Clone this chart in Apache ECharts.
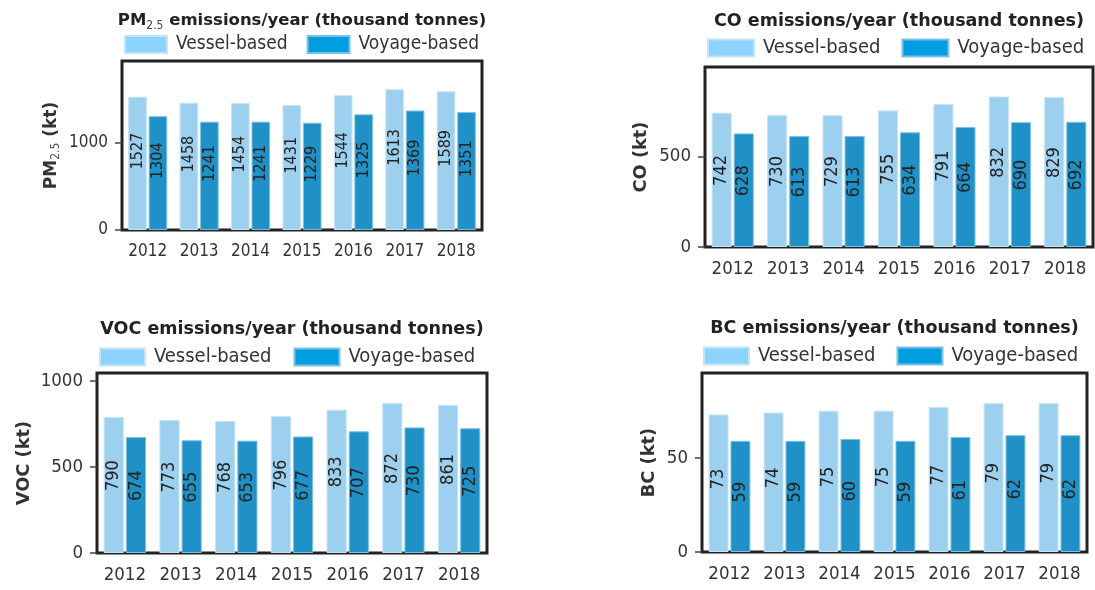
<!DOCTYPE html>
<html>
<head>
<meta charset="utf-8">
<script src="https://cdn.jsdelivr.net/npm/echarts@6/dist/echarts.min.js"></script>
<style>
html,body{margin:0;padding:0;background:#fff;}
#c{width:1095px;height:590px;}
</style>
</head>
<body>
<div id="c"></div>
<script>
// ---- data ----
var years = ['2012','2013','2014','2015','2016','2017','2018'];
var seriesNames = ['Vessel-based','Voyage-based'];
var pmVessel = [1527,1458,1454,1431,1544,1613,1589];
var pmVoyage = [1304,1241,1241,1229,1325,1369,1351];
var coVessel = [742,730,729,755,791,832,829];
var coVoyage = [628,613,613,634,664,690,692];
var vocVessel = [790,773,768,796,833,872,861];
var vocVoyage = [674,655,653,677,707,730,725];
var bcVessel = [73,74,75,75,77,79,79];
var bcVoyage = [59,59,60,59,61,62,62];
var pmTicks = [0,1000];
var coTicks = [0,500];
var vocTicks = [0,500,1000];
var bcTicks = [0,50];
var pmMax = 1936, coMax = 995, vocMax = 1046, bcMax = 95;

// ---- style ----
var FONT = "'DejaVu Sans Condensed','DejaVu Sans',sans-serif";
var BOLD = "'DejaVu Sans','DejaVu Sans Condensed',sans-serif";
var C_VESSEL = '#9dcfee', C_VOYAGE = '#1f91c6';
var L_VESSEL = '#8cd3ff', L_VOYAGE = '#009ee0';
var TXT = '#333';

var panels = [
  {grid:{left:122, top:61, width:360, height:169}, max:pmMax, ticks:pmTicks, v:pmVessel, w:pmVoyage,
   title:'{b|PM}{s|2.5}{b| emissions/year (thousand tonnes)}', titleTop:10, tf:16.5,
   yname:'{b|PM}{s|2.5}{b| (kt)}', nameGap:60, nf:17, af:17, lf:19, vf:16, sw:42, ig:19,
   legendLeft:124, legendTop:35},
  {grid:{left:705, top:67, width:388, height:180}, max:coMax, ticks:coTicks, v:coVessel, w:coVoyage,
   title:'{b|CO emissions/year (thousand tonnes)}', titleTop:10, tf:17.5,
   yname:'{b|CO (kt)}', nameGap:54, nf:17.8, af:18.5, lf:20, vf:18, sw:46, ig:21,
   legendLeft:707, legendTop:38},
  {grid:{left:97, top:373, width:390, height:180}, max:vocMax, ticks:vocTicks, v:vocVessel, w:vocVoyage,
   title:'{b|VOC emissions/year (thousand tonnes)}', titleTop:318, tf:17.5,
   yname:'{b|VOC (kt)}', nameGap:63, nf:17.8, af:18.5, lf:20, vf:18, sw:45, ig:22,
   legendLeft:99, legendTop:347},
  {grid:{left:702, top:373, width:385, height:179}, max:bcMax, ticks:bcTicks, v:bcVessel, w:bcVoyage,
   title:'{b|BC emissions/year (thousand tonnes)}', titleTop:317, tf:17.5,
   yname:'{b|BC (kt)}', nameGap:43, nf:17.8, af:18.5, lf:20, vf:18, sw:45, ig:21,
   legendLeft:703, legendTop:346}
];

function richTitle(fs){
  return {
    b:{fontFamily:BOLD, fontWeight:'bold', fontSize:fs, color:'#222', lineHeight:22},
    s:{fontFamily:FONT, fontWeight:'normal', fontSize:Math.round(fs*0.75), color:'#444', lineHeight:12, verticalAlign:'bottom'}
  };
}
function richName(fs){
  return {
    b:{fontFamily:BOLD, fontWeight:'bold', fontSize:fs, color:'#333', lineHeight:20},
    s:{fontFamily:FONT, fontWeight:'normal', fontSize:Math.round(fs*0.7), color:'#555', lineHeight:11, verticalAlign:'bottom'}
  };
}

var option = {animation:false, backgroundColor:'#fff', grid:[], xAxis:[], yAxis:[], series:[], title:[], legend:[]};

panels.forEach(function(p, i){
  var g = Object.assign({show:true, borderColor:'#222', borderWidth:3, backgroundColor:'transparent', containLabel:false}, p.grid);
  option.grid.push(g);
  option.title.push({text:p.title, left:p.grid.left + p.grid.width/2, top:p.titleTop, textAlign:'center', padding:0,
    textStyle:{rich:richTitle(p.tf), fontSize:p.tf}});
  option.legend.push({data:[
      {name:seriesNames[0], itemStyle:{color:L_VESSEL}},
      {name:seriesNames[1], itemStyle:{color:L_VOYAGE}}],
    left:p.legendLeft, top:p.legendTop, padding:0, itemWidth:p.sw, itemHeight:17, itemGap:p.ig, icon:'rect',
    selectedMode:false,
    textStyle:{fontFamily:FONT, fontSize:p.lf, color:TXT, padding:[0,0,0,4]}});
  option.xAxis.push({type:'category', gridIndex:i, data:years,
    axisLine:{show:false}, axisTick:{show:false},
    axisLabel:{fontFamily:FONT, fontSize:p.af, color:TXT, margin:13, interval:0}});
  option.yAxis.push({type:'value', gridIndex:i, min:0, max:p.max,
    splitLine:{show:false}, axisLine:{show:false},
    axisTick:{show:true, length:7, lineStyle:{color:'#444', width:1.5}, customValues:p.ticks},
    axisLabel:{fontFamily:FONT, fontSize:p.af, color:TXT, margin:14, customValues:p.ticks,
      formatter:function(v){return String(v);}},
    name:p.yname, nameLocation:'middle', nameGap:p.nameGap, nameTextStyle:{rich:richName(p.nf)}});
  var lbl = {show:true, position:'inside', rotate:90, align:'left', verticalAlign:'middle', offset:[-6,0],
    fontFamily:FONT, fontSize:p.vf, color:'#222'};
  option.series.push({type:'bar', name:seriesNames[0], xAxisIndex:i, yAxisIndex:i, data:p.v,
    barCategoryGap:'24%', barGap:'10%',
    itemStyle:{color:C_VESSEL, borderColor:'#c4e4f7', borderWidth:1}, label:lbl});
  option.series.push({type:'bar', name:seriesNames[1], xAxisIndex:i, yAxisIndex:i, data:p.w,
    barCategoryGap:'24%', barGap:'10%',
    itemStyle:{color:C_VOYAGE, borderColor:'#7cc0e4', borderWidth:1}, label:lbl});
});

var chart = echarts.init(document.getElementById('c'), null, {renderer:'canvas'});
chart.setOption(option);
</script>
</body>
</html>
